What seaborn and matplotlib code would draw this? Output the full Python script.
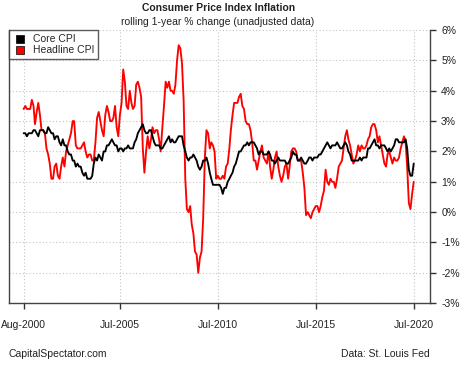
import pandas as pd
import seaborn as sns
import matplotlib.pyplot as plt
from matplotlib.lines import Line2D

# monthly values, Aug-2000 .. Jul-2020 (% change vs. a year earlier)
headline = [
    3.4, 3.5, 3.4, 3.4, 3.4,
    3.7, 3.5, 2.9, 3.3, 3.6, 3.2, 2.7, 2.7, 2.6, 2.1, 1.9, 1.6,
    1.1, 1.1, 1.5, 1.6, 1.2, 1.1, 1.5, 1.8, 1.5, 2.0, 2.2, 2.4,
    2.6, 3.0, 3.0, 2.2, 2.1, 2.1, 2.1, 2.2, 2.3, 2.0, 1.8, 1.9,
    1.9, 1.7, 1.7, 2.3, 3.1, 3.3, 3.0, 2.7, 2.5, 3.2, 3.5, 3.3,
    3.0, 3.0, 3.1, 3.5, 2.8, 2.5, 3.2, 3.6, 4.7, 4.3, 3.5, 3.4,
    4.0, 3.6, 3.4, 3.5, 4.2, 4.3, 4.1, 3.8, 2.1, 1.3, 2.0, 2.5,
    2.1, 2.4, 2.8, 2.6, 2.7, 2.7, 2.4, 2.0, 2.8, 3.5, 4.3, 4.1,
    4.3, 4.0, 4.0, 3.9, 4.2, 5.0, 5.5, 5.4, 4.9, 3.7, 1.1, 0.1,
    0.0, 0.2, -0.4, -0.7, -1.3, -1.4, -2.0, -1.5, -1.3, -0.2, 1.8, 2.7,
    2.6, 2.1, 2.3, 2.2, 2.0, 1.1, 1.2, 1.1, 1.1, 1.2, 1.1, 1.5,
    1.6, 2.1, 2.7, 3.2, 3.6, 3.6, 3.6, 3.8, 3.9, 3.5, 3.4, 3.0,
    2.9, 2.9, 2.7, 2.3, 1.7, 1.7, 1.4, 1.7, 2.0, 2.2, 1.8, 1.7,
    1.6, 2.0, 1.5, 1.1, 1.4, 1.8, 2.0, 1.5, 1.2, 1.0, 1.2, 1.5,
    1.6, 1.1, 1.5, 2.0, 2.1, 2.1, 2.0, 1.7, 1.7, 1.7, 1.3, 0.8,
    -0.1, 0.0, -0.1, -0.2, 0.0, 0.1, 0.2, 0.2, 0.0, 0.2, 0.5, 0.7,
    1.4, 1.0, 0.9, 1.1, 1.0, 1.0, 0.8, 1.1, 1.5, 1.6, 1.7, 2.1,
    2.5, 2.7, 2.4, 2.2, 1.9, 1.6, 1.7, 1.9, 2.2, 2.0, 2.2, 2.1,
    2.1, 2.2, 2.4, 2.5, 2.8, 2.9, 2.9, 2.7, 2.3, 2.5, 2.2, 1.9,
    1.6, 1.5, 1.9, 2.0, 1.8, 1.6, 1.8, 1.7, 1.7, 1.8, 2.1, 2.3,
    2.5, 2.3, 1.5, 0.3, 0.1, 0.6, 1.0,
]
core = [
    2.6, 2.6, 2.5, 2.6, 2.6,
    2.6, 2.7, 2.7, 2.6, 2.5, 2.7, 2.7, 2.7, 2.6, 2.6, 2.8, 2.7,
    2.6, 2.6, 2.4, 2.5, 2.5, 2.3, 2.2, 2.4, 2.2, 2.2, 2.0, 1.9,
    1.9, 1.7, 1.7, 1.5, 1.6, 1.5, 1.5, 1.3, 1.2, 1.3, 1.1, 1.1,
    1.1, 1.2, 1.6, 1.8, 1.7, 1.9, 1.8, 1.7, 2.0, 2.0, 2.2, 2.2,
    2.3, 2.4, 2.3, 2.2, 2.2, 2.0, 2.1, 2.1, 2.0, 2.1, 2.1, 2.2,
    2.1, 2.1, 2.1, 2.3, 2.4, 2.6, 2.7, 2.8, 2.9, 2.7, 2.6, 2.6,
    2.7, 2.7, 2.5, 2.3, 2.2, 2.2, 2.2, 2.1, 2.1, 2.2, 2.3, 2.4,
    2.5, 2.3, 2.4, 2.3, 2.3, 2.4, 2.5, 2.5, 2.5, 2.2, 2.0, 1.8,
    1.7, 1.8, 1.8, 1.9, 1.8, 1.7, 1.5, 1.4, 1.5, 1.7, 1.7, 1.8,
    1.6, 1.3, 1.1, 0.9, 0.9, 0.9, 0.9, 0.9, 0.8, 0.6, 0.8, 0.8,
    1.0, 1.1, 1.2, 1.3, 1.5, 1.6, 1.8, 2.0, 2.0, 2.1, 2.2, 2.2,
    2.3, 2.2, 2.3, 2.3, 2.3, 2.2, 2.1, 1.9, 2.0, 2.0, 1.9, 1.9,
    1.9, 2.0, 1.9, 1.7, 1.7, 1.6, 1.7, 1.8, 1.7, 1.7, 1.7, 1.7,
    1.6, 1.6, 1.7, 1.8, 2.0, 1.9, 1.9, 1.7, 1.7, 1.8, 1.7, 1.6,
    1.6, 1.7, 1.8, 1.8, 1.7, 1.8, 1.8, 1.8, 1.9, 1.9, 2.0, 2.1,
    2.2, 2.3, 2.2, 2.1, 2.2, 2.2, 2.2, 2.3, 2.2, 2.1, 2.1, 2.2,
    2.3, 2.2, 2.0, 1.9, 1.7, 1.7, 1.7, 1.7, 1.7, 1.8, 1.7, 1.8,
    1.8, 1.8, 2.1, 2.1, 2.2, 2.3, 2.4, 2.2, 2.2, 2.1, 2.2, 2.2,
    2.2, 2.1, 2.0, 2.1, 2.0, 2.1, 2.2, 2.4, 2.4, 2.3, 2.3, 2.3,
    2.3, 2.4, 2.1, 1.4, 1.2, 1.2, 1.6,
]
months = pd.date_range('2000-08-01', periods=len(core), freq='MS')

tick_dates = ['2000-08-01', '2005-07-01', '2010-07-01', '2015-07-01', '2020-07-01']
tick_labels = ['Aug-2000', 'Jul-2005', 'Jul-2010', 'Jul-2015', 'Jul-2020']
y_ticks = [-3, -2, -1, 0, 1, 2, 3, 4, 5, 6]

df = pd.concat([
    pd.DataFrame({'date': months, 'serie': 'Headline CPI', 'valor': headline}),
    pd.DataFrame({'date': months, 'serie': 'Core CPI', 'valor': core}),
])

sns.set_style('white')
plt.rcParams['font.family'] = ['Liberation Sans', 'DejaVu Sans']

fig = plt.figure(figsize=(4.71, 3.67), dpi=100)
ax = fig.add_axes([0.019, 0.174, 0.894, 0.744])

cores = {'Core CPI': 'black', 'Headline CPI': 'red'}
sns.lineplot(data=df, x='date', y='valor', hue='serie', hue_order=['Headline CPI', 'Core CPI'],
             palette=cores, linewidth=1.35, legend=False, ax=ax)

ax.set_xlim(pd.Timestamp('1999-11-01'), pd.Timestamp('2021-05-01'))
ax.set_ylim(-3, 6)
ax.set_xticks(pd.to_datetime(tick_dates))
ax.set_xticklabels(tick_labels)
ax.set_yticks(y_ticks)
ax.set_yticklabels([f'{v}%' for v in y_ticks])
ax.yaxis.tick_right()
ax.set_xlabel('')
ax.set_ylabel('')
ax.grid(True, color='#c4c4c4', linestyle=(0, (1, 2)), linewidth=0.8)
ax.tick_params(axis='both', direction='out', length=4, width=1, color='#333333',
               labelsize=7.5, colors='#333333')
ax.tick_params(axis='x', bottom=True, pad=8, labelcolor='#222222')
ax.tick_params(axis='y', right=True, pad=4, labelcolor='#222222')

for lado in ['left', 'bottom', 'right']:
    ax.spines[lado].set_visible(True)
    ax.spines[lado].set_color('#444444')
    ax.spines[lado].set_linewidth(1.0)
ax.spines['top'].set_visible(False)

handles = [Line2D([], [], marker='s', linestyle='', markersize=6, markerfacecolor=cores[k],
                  markeredgecolor='black', markeredgewidth=0.5) for k in ['Core CPI', 'Headline CPI']]
leg = ax.legend(handles, ['Core CPI', 'Headline CPI'], loc='upper left', bbox_to_anchor=(0, 1),
                fontsize=7.5, frameon=True, fancybox=False, borderaxespad=0, handlelength=1.4,
                handletextpad=0.5, labelspacing=0.1, borderpad=0.4)
leg.get_frame().set_edgecolor('#333333')
leg.get_frame().set_linewidth(1.0)

fig.text(0.463, 0.978, 'Consumer Price Index Inflation', ha='center', va='center',
         fontsize=7.5, fontweight='bold', color='#222222')
fig.text(0.463, 0.94, 'rolling 1-year % change (unadjusted data)', ha='center', va='center',
         fontsize=7.5, color='#222222')
fig.text(0.019, 0.035, 'CapitalSpectator.com', ha='left', va='center', fontsize=7.5, color='#222222')
fig.text(0.913, 0.035, 'Data: St. Louis Fed', ha='right', va='center', fontsize=7.5, color='#222222')

fig.savefig('out.png', dpi=100, facecolor='white')
